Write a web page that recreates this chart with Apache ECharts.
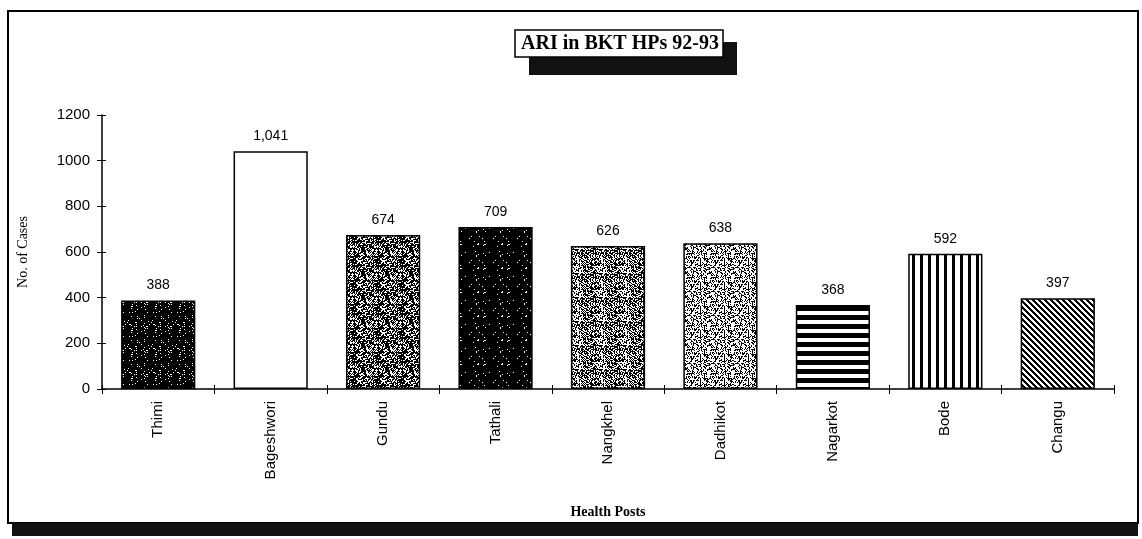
<!DOCTYPE html>
<html>
<head>
<meta charset="utf-8">
<script src="https://cdn.jsdelivr.net/npm/echarts@6/dist/echarts.min.js"></script>
<style>
  html, body { margin: 0; padding: 0; background: #fff; }
  #chart { width: 1142px; height: 539px; }
</style>
</head>
<body>
<div id="chart"></div>
<script>
// health posts and ARI case counts 92-93
var posts = ['Thimi', 'Bageshwori', 'Gundu', 'Tathali', 'Nangkhel', 'Dadhikot', 'Nagarkot', 'Bode', 'Changu'];
var cases = [388, 1041, 674, 709, 626, 638, 368, 592, 397];
var yTicks = [0, 200, 400, 600, 800, 1000, 1200];

// small textures to mimic the scanned fills
function noiseFill(dark, seed) {
  var c = document.createElement('canvas');
  c.width = 24; c.height = 24;
  var ctx = c.getContext('2d');
  var s = seed;
  for (var y = 0; y < 24; y++) {
    for (var x = 0; x < 24; x++) {
      s = (s * 1103515245 + 12345) % 2147483648;
      var r = s / 2147483648;
      ctx.fillStyle = r < dark ? '#000' : '#fff';
      ctx.fillRect(x, y, 1, 1);
    }
  }
  return { image: c, repeat: 'repeat' };
}
function stripeFill(kind) {
  var c = document.createElement('canvas');
  var ctx = c.getContext('2d');
  if (kind === 'h') {
    c.width = 8; c.height = 9;
    ctx.fillStyle = '#fff'; ctx.fillRect(0, 0, 8, 9);
    ctx.fillStyle = '#000'; ctx.fillRect(0, 0, 8, 5);
  } else if (kind === 'v') {
    c.width = 8; c.height = 8;
    ctx.fillStyle = '#fff'; ctx.fillRect(0, 0, 8, 8);
    ctx.fillStyle = '#000'; ctx.fillRect(0, 0, 3, 8);
  } else {
    c.width = 6; c.height = 6;
    ctx.fillStyle = '#fff'; ctx.fillRect(0, 0, 6, 6);
    ctx.fillStyle = '#000';
    for (var i = 0; i < 6; i++) {
      ctx.fillRect(i, i, 1, 1);
      ctx.fillRect((i + 1) % 6, i, 1, 1);
      ctx.fillRect((i + 2) % 6, i, 1, 1);
    }
  }
  return { image: c, repeat: 'repeat' };
}

var fills = [
  noiseFill(0.93, 7),
  '#ffffff',
  noiseFill(0.66, 11),
  noiseFill(0.95, 23),
  noiseFill(0.5, 31),
  noiseFill(0.4, 43),
  stripeFill('h'),
  stripeFill('v'),
  stripeFill('d')
];

var labelFont = 'Liberation Sans';
var chart = echarts.init(document.getElementById('chart'));
var option = {
  animation: false,
  backgroundColor: '#fff',
  grid: { left: 102, right: 28, top: 115, bottom: 150 },
  graphic: [
    { type: 'rect', shape: { x: 8, y: 11, width: 1130, height: 512 },
      style: { fill: 'none', stroke: '#000', lineWidth: 2 }, z: -1 },
    { type: 'rect', shape: { x: 12, y: 523, width: 1126, height: 13 },
      style: { fill: '#111' } },
    { type: 'rect', shape: { x: 529, y: 42, width: 208, height: 33 },
      style: { fill: '#111' } },
    { type: 'rect', shape: { x: 515, y: 30, width: 208, height: 27 },
      style: { fill: '#fff', stroke: '#000', lineWidth: 1.5 } },
    { type: 'text', x: 620, y: 44,
      style: { text: 'ARI in BKT HPs 92-93', font: 'bold 20px "Liberation Serif", "DejaVu Serif", serif',
        fill: '#000', align: 'center', verticalAlign: 'middle' } }
  ],
  xAxis: [{
    type: 'category',
    data: posts,
    name: 'Health Posts',
    nameLocation: 'middle',
    nameGap: 116,
    nameTextStyle: { fontFamily: 'Liberation Serif', fontWeight: 'bold', fontSize: 14, color: '#000' },
    axisLine: { lineStyle: { color: '#000', width: 1.5 } },
    axisTick: { show: true, length: 5, lineStyle: { color: '#000' } },
    axisLabel: { rotate: 90, margin: 12, fontFamily: labelFont, fontSize: 15, color: '#000' }
  }, {
    // second copy only to draw the tick half above the axis line
    type: 'category',
    data: posts,
    position: 'bottom',
    axisLine: { show: false },
    axisTick: { show: true, inside: true, length: 4, lineStyle: { color: '#000' } },
    axisLabel: { show: false }
  }],
  yAxis: [{
    type: 'value',
    min: yTicks[0],
    max: yTicks[yTicks.length - 1],
    interval: 200,
    name: 'No. of Cases',
    nameLocation: 'middle',
    nameGap: 72,
    nameTextStyle: { fontFamily: 'Liberation Serif', fontSize: 14, color: '#000' },
    axisLine: { show: true, lineStyle: { color: '#000', width: 1.5 } },
    axisTick: { show: true, length: 5, lineStyle: { color: '#000' } },
    axisLabel: { margin: 12, fontFamily: labelFont, fontSize: 15, color: '#000',
      formatter: function (v) { return String(v); } },
    splitLine: { show: false }
  }, {
    type: 'value',
    min: yTicks[0],
    max: yTicks[yTicks.length - 1],
    interval: 200,
    position: 'left',
    axisLine: { show: false },
    axisTick: { show: true, inside: true, length: 4, lineStyle: { color: '#000' } },
    axisLabel: { show: false },
    splitLine: { show: false }
  }],
  series: [{
    type: 'bar',
    xAxisIndex: 0,
    yAxisIndex: 0,
    barWidth: '66%',
    data: cases.map(function (v, i) {
      return { value: v, itemStyle: { color: fills[i] } };
    }),
    itemStyle: { borderColor: '#000', borderWidth: 1.5 },
    label: {
      show: true,
      position: 'top',
      distance: 8,
      fontFamily: labelFont,
      fontSize: 14,
      color: '#000',
      formatter: function (p) { return p.value.toLocaleString('en-US'); }
    }
  }]
};
chart.setOption(option);
</script>
</body>
</html>
